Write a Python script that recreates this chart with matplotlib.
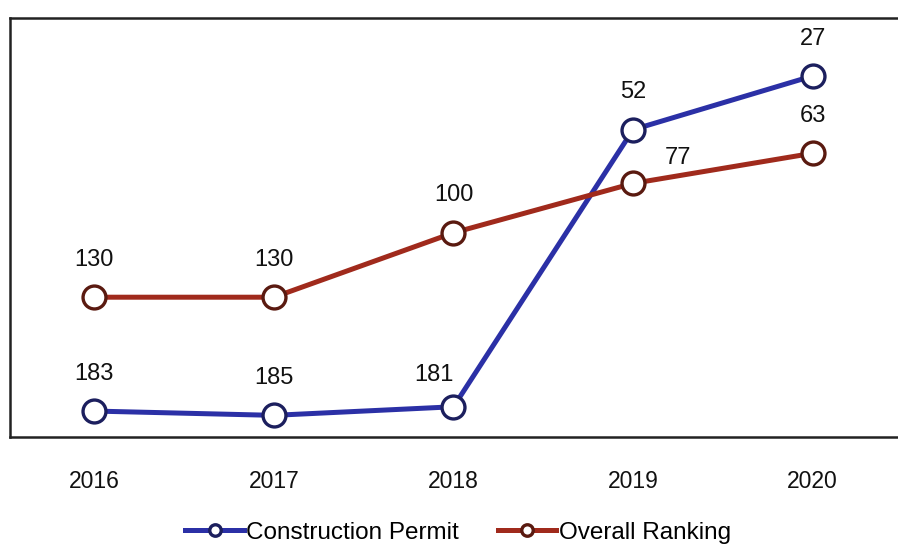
import matplotlib
matplotlib.use('Agg')
import matplotlib.pyplot as plt

# ── data ──────────────────────────────────────────────────────────────────────
years = ['2016', '2017', '2018', '2019', '2020']
construction_permit = [183, 185, 181, 52, 27]
overall_ranking = [130, 130, 100, 77, 63]

# label offsets in points (dx, dy) relative to each marker
cp_offsets = [(0, 19), (0, 19), (-14, 15), (0, 19), (0, 19)]
or_offsets = [(0, 19), (0, 19), (0, 19), (32, 10), (0, 19)]

BLUE, BLUE_EDGE = '#2b30a6', '#1c1f5e'
RED, RED_EDGE = '#a02a1c', '#5a1a10'

plt.rcParams['font.family'] = ['Liberation Sans', 'DejaVu Sans']

fig = plt.figure(figsize=(8.98, 5.44), dpi=100)
fig.patch.set_facecolor('white')
ax = fig.add_axes([0.011, 0.197, 1.0, 0.77])

x = list(range(len(years)))
ax.plot(x, construction_permit, '-o', color=BLUE, lw=3.6, ms=16.5,
        mfc='white', mec=BLUE_EDGE, mew=2.4, label='Construction Permit', zorder=3)
ax.plot(x, overall_ranking, '-o', color=RED, lw=3.6, ms=16.5,
        mfc='white', mec=RED_EDGE, mew=2.4, label='Overall Ranking', zorder=3)

for xi, v, off in zip(x, construction_permit, cp_offsets):
    ax.annotate(str(v), (xi, v), xytext=off, textcoords='offset points',
                ha='center', va='bottom', fontsize=17, color='#111')
for xi, v, off in zip(x, overall_ranking, or_offsets):
    ax.annotate(str(v), (xi, v), xytext=off, textcoords='offset points',
                ha='center', va='bottom', fontsize=17, color='#111')

ax.set_xlim(-0.47, 4.53)
ax.set_ylim(195, 0)
ax.set_yticks([])
ax.set_xticks(x)
ax.set_xticklabels(years, fontsize=16.5, color='#111')
ax.tick_params(axis='x', length=0, pad=24)

for sp in ['left', 'top', 'bottom']:
    ax.spines[sp].set_color('#222')
    ax.spines[sp].set_linewidth(1.8)
ax.spines['right'].set_visible(False)

fig.legend(loc='lower center', bbox_to_anchor=(0.51, -0.04), ncol=2,
           frameon=False, fontsize=17.5, handlelength=2.4, columnspacing=1.6,
           handletextpad=0.1, markerscale=0.5)

plt.savefig('out.png', dpi=100, facecolor='white')
